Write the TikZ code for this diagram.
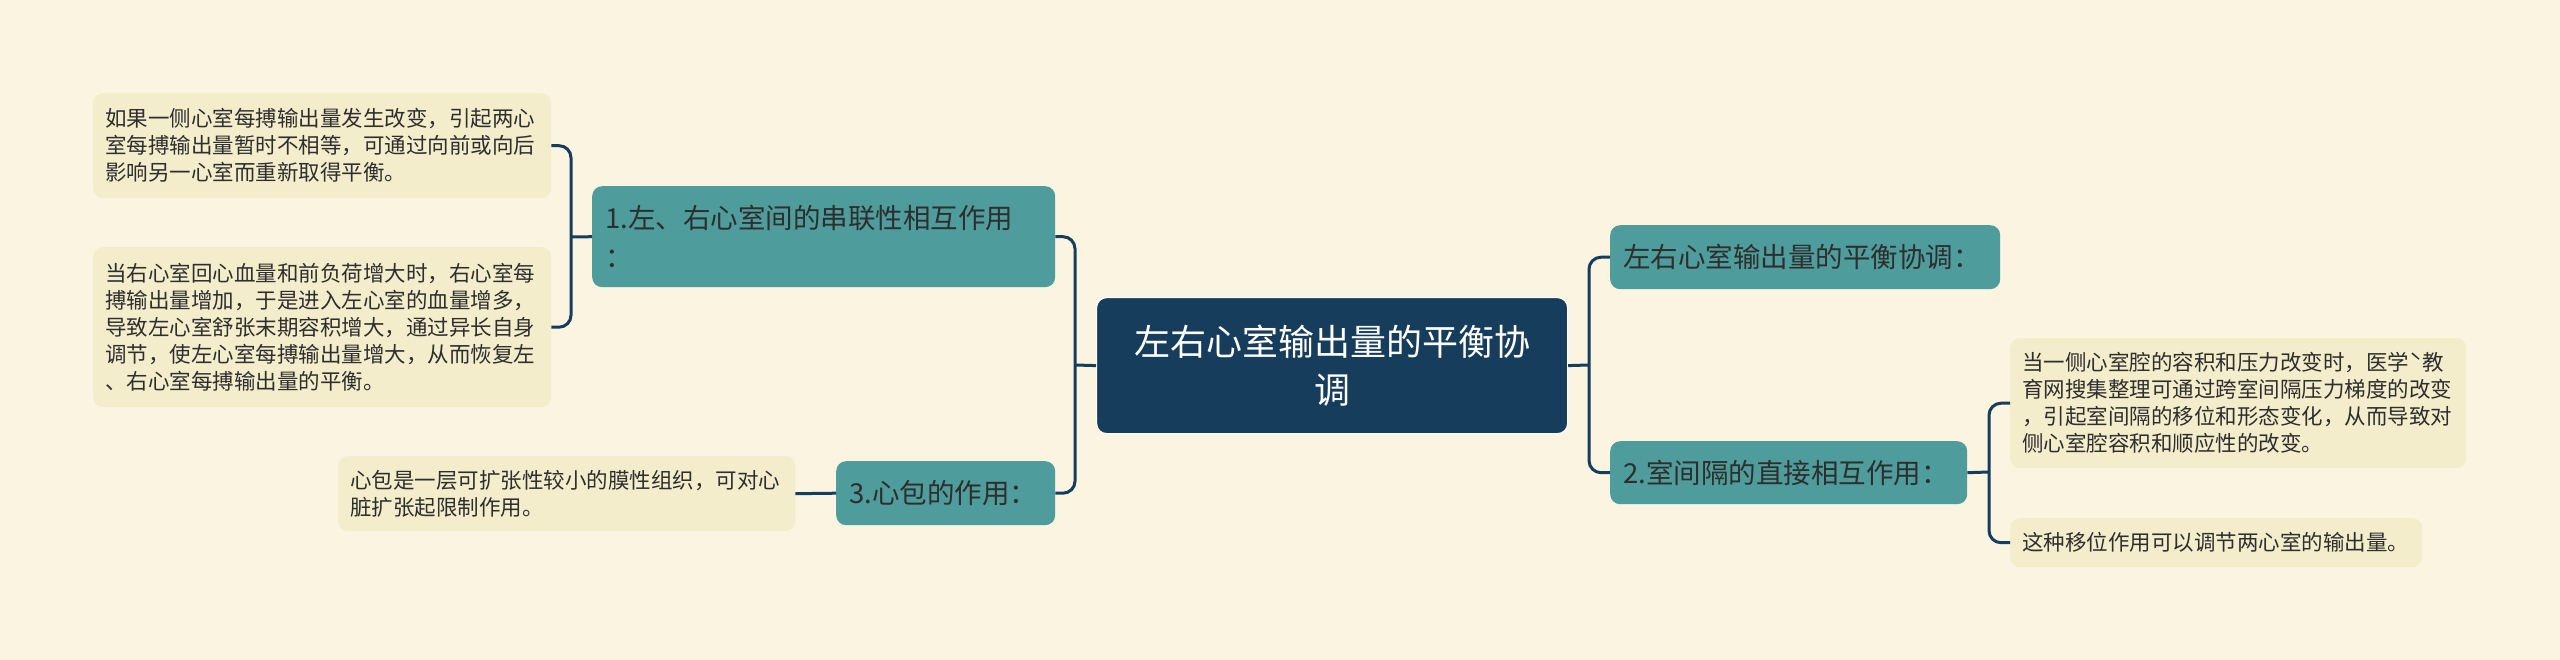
\documentclass[tikz,border=0pt]{standalone}
\usepackage{fontspec}
\setmainfont{Noto Sans CJK SC}
\definecolor{bg}{HTML}{FAF4E0}
\definecolor{leaffill}{HTML}{F4EDCB}
\definecolor{tealbox}{HTML}{4E9C9B}
\definecolor{navy}{HTML}{173D5C}
\definecolor{txt}{HTML}{2E2E2E}
\tikzset{
  leaf/.style={fill=leaffill, rounded corners=10pt, inner xsep=12pt, inner ysep=0pt,
    align=left, text=txt, anchor=north west, font=\fontsize{21.5}{27}\selectfont},
  sub/.style={fill=tealbox, rounded corners=10pt, inner xsep=13pt, inner ysep=0pt,
    align=left, text=txt, anchor=north west, font=\fontsize{27.5}{39}\selectfont},
  rootbox/.style={fill=navy, draw=white!85!bg, line width=1.2pt, rounded corners=10pt,
    inner xsep=10pt, inner ysep=0pt, align=center, text=white, anchor=north west,
    font=\fontsize{36}{48}\selectfont},
  conn/.style={draw=navy, line width=3pt, rounded corners=12pt}
}
\begin{document}
\begin{tikzpicture}[x=1pt,y=-1pt]
\useasboundingbox[fill=bg] (0,0) rectangle (2560,660);

% root
\node[rootbox, text width=451pt, minimum height=136pt] (root) at (1096,297)
  {左右心室输出量的平衡协\\调};

% left branch
\node[sub, text width=437pt, minimum height=101pt] (n1) at (592,186)
  {1.左、右心室间的串联性相互作用\\：};
\node[sub, text width=193pt, minimum height=64pt] (n3) at (836,461)
  {3.心包的作用：};

% right branch
\node[sub, text width=364pt, minimum height=64pt] (rt) at (1610,225)
  {左右心室输出量的平衡协调：};
\node[sub, text width=331pt, minimum height=63pt] (n2) at (1610,441)
  {2.室间隔的直接相互作用：};

% leaves
\node[leaf, text width=434pt, minimum height=105pt] (l1a) at (93,93)
  {如果一侧心室每搏输出量发生改变，引起两心\\室每搏输出量暂时不相等，可通过向前或向后\\影响另一心室而重新取得平衡。};
\node[leaf, text width=434pt, minimum height=160pt] (l1b) at (93,247)
  {当右心室回心血量和前负荷增大时，右心室每\\搏输出量增加，于是进入左心室的血量增多，\\导致左心室舒张末期容积增大，通过异长自身\\调节，使左心室每搏输出量增大，从而恢复左\\、右心室每搏输出量的平衡。};
\node[leaf, text width=433pt, minimum height=75pt] (l3a) at (338,456)
  {心包是一层可扩张性较小的膜性组织，可对心\\脏扩张起限制作用。};
\node[leaf, text width=432pt, minimum height=130pt] (l2a) at (2010,338)
  {当一侧心室腔的容积和压力改变时，医学ˋ教\\育网搜集整理可通过跨室间隔压力梯度的改变\\，引起室间隔的移位和形态变化，从而导致对\\侧心室腔容积和顺应性的改变。};
\node[leaf, text width=388pt, minimum height=49pt] (l2b) at (2010,518)
  {这种移位作用可以调节两心室的输出量。};

% junction coordinates
\coordinate (jL) at (1075,365);
\coordinate (jR) at (1589,365);
\coordinate (j1) at (571,237);
\coordinate (j2) at (1989,472);

% connectors
\draw[conn] (root.west) -- (jL);
\draw[conn] (n1.east) -| (jL) |- (n3.east);
\draw[conn] (root.east) -- (jR);
\draw[conn] (rt.west) -| (jR) |- (n2.west);
\draw[conn] (n1.west) -- (j1);
\draw[conn] (l1a.east) -| (j1) |- (l1b.east);
\draw[conn] (n3.west) -- (l3a.east);
\draw[conn] (n2.east) -- (j2);
\draw[conn] (l2a.west) -| (j2) |- (l2b.west);
\end{tikzpicture}
\end{document}
